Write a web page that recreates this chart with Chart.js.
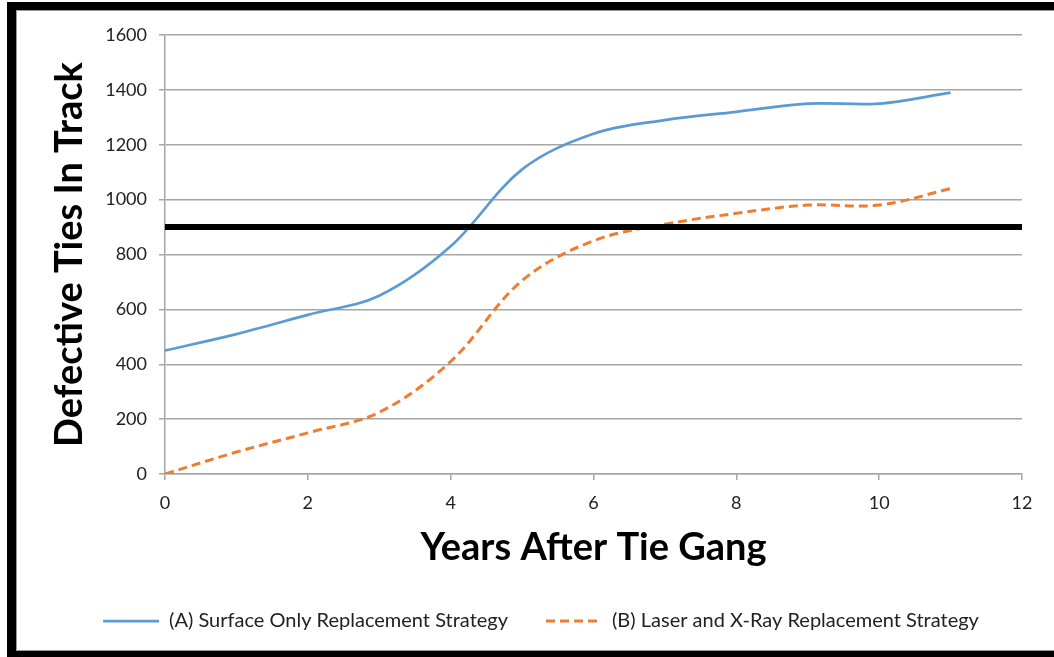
<!DOCTYPE html>
<html>
<head>
<meta charset="utf-8">
<script src="https://cdn.jsdelivr.net/npm/chart.js@4.4.1/dist/chart.umd.min.js"></script>
<style>
  html, body { margin: 0; padding: 0; background: #fff; }
  #wrap { width: 1054px; height: 657px; }
</style>
</head>
<body>
<div id="wrap"><canvas id="ties" width="1054" height="657"></canvas></div>
<script>
// years after the tie gang went through
const years = [0, 1, 2, 3, 4, 5, 6, 7, 8, 9, 10, 11];
// defective ties left in track for each replacement strategy
const surfaceOnly = [450, 510, 580, 650, 830, 1110, 1240, 1290, 1320, 1350, 1350, 1390];
const laserXRay = [0, 80, 150, 225, 410, 705, 850, 910, 950, 980, 980, 1040];
// allowed limit of defective ties
const limitYears = [0, 12];
const limitLevel = 900;

const labelA = '(A) Surface Only Replacement Strategy';
const labelB = '(B) Laser and X-Ray Replacement Strategy';

const toPoints = (xs, ys) => xs.map((x, i) => ({ x, y: ys[i] }));

// black border around the figure
const framePlugin = {
  id: 'frame',
  beforeDraw(chart) {
    const { ctx, width, height } = chart;
    ctx.save();
    ctx.fillStyle = '#fff';
    ctx.fillRect(0, 0, width, height);
    ctx.fillStyle = '#000';
    ctx.fillRect(7, 2, 9, height - 2);
    ctx.fillRect(7, 2, width - 7, 8);
    ctx.fillRect(7, 651, width - 7, 6);
    ctx.fillStyle = '#999';
    ctx.fillRect(16, 10, 1, 640);
    ctx.fillRect(16, 10, width - 16, 1);
    ctx.fillRect(16, 650, width - 16, 1);
    ctx.restore();
  }
};

// legend entries drawn as short line samples using each series' own stroke
const lineLabels = chart => chart.data.datasets
  .map((ds, i) => ({
    text: ds.label,
    datasetIndex: i,
    strokeStyle: ds.borderColor,
    fillStyle: ds.borderColor,
    lineWidth: ds.borderWidth,
    lineDash: ds.borderDash || [],
    pointStyle: 'line',
    fontColor: '#222',
    hidden: false
  }))
  .filter(item => item.text !== 'limit');

const tickFont = { family: 'Lato', size: 18 };
const titleFont = { family: 'Lato', size: 38, weight: 'bold' };

new Chart(document.getElementById('ties'), {
  type: 'line',
  data: {
    datasets: [
      {
        label: 'limit',
        data: toPoints(limitYears, limitYears.map(() => limitLevel)),
        borderColor: '#000',
        borderWidth: 6,
        pointRadius: 0,
        tension: 0
      },
      {
        label: labelA,
        data: toPoints(years, surfaceOnly),
        borderColor: '#5B9BD5',
        backgroundColor: '#5B9BD5',
        borderWidth: 2.75,
        pointRadius: 0,
        tension: 0.35
      },
      {
        label: labelB,
        data: toPoints(years, laserXRay),
        borderColor: '#ED7D31',
        backgroundColor: '#ED7D31',
        borderWidth: 3,
        borderDash: [9, 5],
        pointRadius: 0,
        tension: 0.35
      }
    ]
  },
  options: {
    responsive: false,
    animation: false,
    devicePixelRatio: 1,
    layout: { padding: { left: 60, right: 32, top: 35, bottom: 16 } },
    plugins: {
      tooltip: { enabled: false },
      legend: {
        position: 'bottom',
        labels: {
          generateLabels: lineLabels,
          usePointStyle: true,
          pointStyle: 'line',
          pointStyleWidth: 56,
          color: '#222',
          font: { family: 'Lato', size: 20 },
          padding: 38
        }
      }
    },
    scales: {
      x: {
        type: 'linear',
        min: 0,
        max: 12,
        ticks: { stepSize: 2, color: '#222', font: tickFont, padding: 12, callback: v => String(v) },
        grid: { drawOnChartArea: false, color: '#a6a6a6', lineWidth: 1.5, tickLength: 6 },
        border: { color: '#a6a6a6', width: 1.5 },
        title: {
          display: true,
          text: 'Years After Tie Gang',
          color: '#000',
          font: titleFont,
          padding: { top: 0, bottom: 2 }
        },
        afterFit(scale) { scale.height = 99; }
      },
      y: {
        min: 0,
        max: 1600,
        ticks: { stepSize: 200, color: '#222', font: tickFont, padding: 12, callback: v => String(v) },
        grid: { color: '#a6a6a6', lineWidth: 1.5, tickLength: 6 },
        border: { color: '#a6a6a6', width: 1.5 },
        title: {
          display: true,
          text: 'Defective Ties In Track',
          color: '#000',
          font: titleFont,
          padding: { top: -13, bottom: 0 }
        },
        afterFit(scale) { scale.width = 105; }
      }
    }
  },
  plugins: [framePlugin]
});
</script>
</body>
</html>
